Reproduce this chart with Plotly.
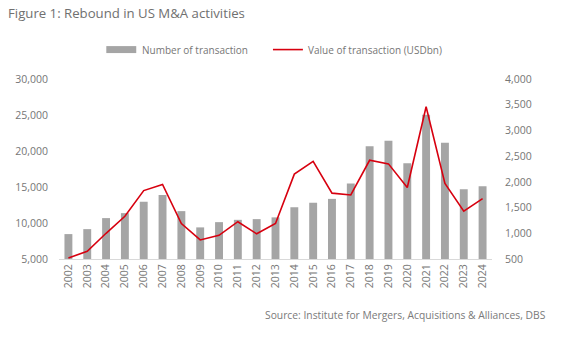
import plotly.graph_objects as go

years = [str(y) for y in range(2002, 2025)]
num_transactions = [8460, 9150, 10680, 11370, 12940, 13900, 11650, 9390, 10120, 10440, 10540,
                    10780, 12200, 12800, 13350, 15480, 20650, 21440, 18300, 25040, 21160, 14700, 15110]
value_usdbn = [520, 650, 1000, 1330, 1830, 1950, 1190, 870, 960, 1225, 990,
               1190, 2150, 2400, 1780, 1745, 2420, 2350, 1890, 3460, 1970, 1430, 1675]

FONT = "Open Sans"
GREY_TXT = "#767676"
BAR_C = "#a5a5a5"
LINE_C = "#d7000f"

W, H = 565, 337
L, R, T, B = 58.6, 72.5, 78.5, 78
pw = W - L - R
ph = H - T - B

def px(x):
    return (x - L) / pw

def py(y):
    return (H - B - y) / ph

fig = go.Figure()
fig.add_trace(go.Bar(x=years, y=num_transactions, name="Number of transaction",
                     marker=dict(color=BAR_C, line=dict(width=0)), yaxis="y"))
fig.add_trace(go.Scatter(x=years, y=value_usdbn, name="Value of transaction (USDbn)",
                         mode="lines", line=dict(color=LINE_C, width=1.6), yaxis="y2"))

fig.update_layout(
    width=W, height=H,
    margin=dict(l=L, r=R, t=T, b=B, autoexpand=False),
    paper_bgcolor="white", plot_bgcolor="white",
    showlegend=False,
    bargap=0.58,
    font=dict(family=FONT, color=GREY_TXT, size=10),
    title=dict(text="Figure 1: Rebound in US M&A activities", xref="container", yref="container",
               x=8 / W, y=1 - 13 / H, xanchor="left", yanchor="middle",
               font=dict(family=FONT, size=13.2, color="#707070")),
    xaxis=dict(type="category", tickangle=-90, showgrid=False, showline=True,
               linecolor="#d9d9d9", linewidth=1, ticks="", tickfont=dict(size=10.5, color=GREY_TXT)),
    yaxis=dict(range=[5000, 30000], dtick=5000, tickformat=",", showgrid=False, zeroline=False,
               showline=False, ticks="", tickfont=dict(size=10.5, color=GREY_TXT), ticklabelstandoff=10),
    yaxis2=dict(range=[500, 4000], dtick=500, tickformat=",", overlaying="y", side="right",
                showgrid=False, zeroline=False, showline=False, ticks="",
                tickfont=dict(size=10.5, color=GREY_TXT), ticklabelstandoff=12),
)

# manual legend
ly = py(49)
fig.add_shape(type="rect", xref="paper", yref="paper", x0=px(106), x1=px(136),
              y0=py(52.5), y1=py(45.5), fillcolor=BAR_C, line=dict(width=0))
fig.add_annotation(xref="paper", yref="paper", x=px(140), y=ly, text="Number of transaction",
                   showarrow=False, xanchor="left", yanchor="middle",
                   font=dict(family=FONT, size=10, color=GREY_TXT))
fig.add_shape(type="line", xref="paper", yref="paper", x0=px(273), x1=px(303), y0=ly, y1=ly,
              line=dict(color=LINE_C, width=1.6))
fig.add_annotation(xref="paper", yref="paper", x=px(306), y=ly, text="Value of transaction (USDbn)",
                   showarrow=False, xanchor="left", yanchor="middle",
                   font=dict(family=FONT, size=10, color=GREY_TXT))

fig.add_annotation(xref="paper", yref="paper", x=px(549), y=py(315),
                   text="Source: Institute for Mergers, Acquisitions & Alliances, DBS",
                   showarrow=False, xanchor="right", yanchor="middle",
                   font=dict(family=FONT, size=10.3, color="#7a7a7a"))

fig.write_html("out.html")
